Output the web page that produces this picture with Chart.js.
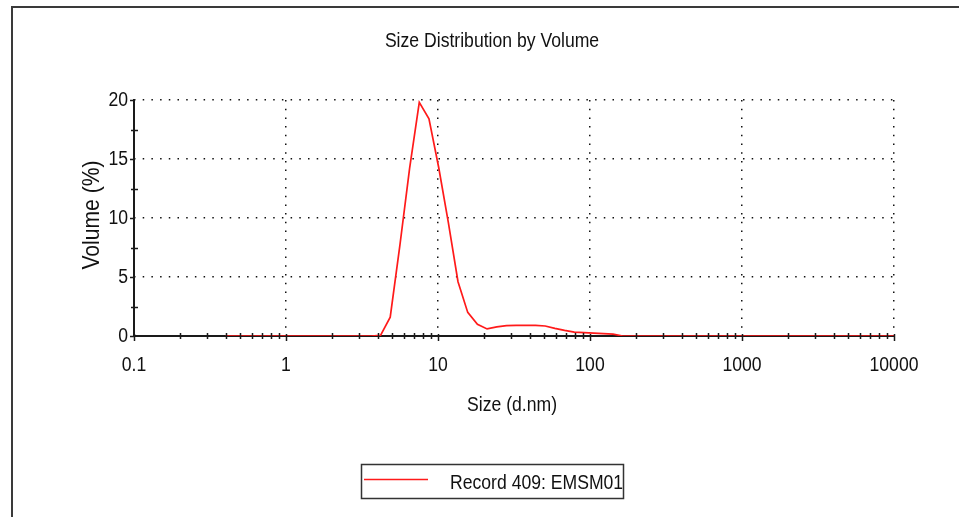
<!DOCTYPE html>
<html>
<head>
<meta charset="utf-8">
<script src="https://cdn.jsdelivr.net/npm/chart.js@4.4.0/dist/chart.umd.min.js"></script>
<style>
html, body { margin: 0; padding: 0; background: #fff; }
#wrap { position: relative; width: 959px; height: 517px; overflow: hidden; }
#frame { position: absolute; left: 11px; top: 6px; width: 2000px; height: 2000px;
         border-left: 2px solid #3a3a3a; border-top: 2px solid #3a3a3a; }
#chart { position: absolute; left: 0; top: 0; }
</style>
</head>
<body>
<div id="wrap">
  <div id="frame"></div>
  <canvas id="chart" width="959" height="517"></canvas>
</div>
<script>
// size bins (d.nm) and volume (%)
var sizeNm = [0.4, 3.616, 4.187, 4.849, 5.616, 6.504, 7.531, 8.722, 10.10, 11.70, 13.54, 15.69,
              18.17, 21.04, 24.37, 28.22, 32.67, 37.84, 43.82, 50.75, 58.77, 68.06, 78.82,
              91.28, 105.7, 122.4, 141.8, 164.2, 10000];
var volumePct = [0, 0, 0.05, 1.6, 7.7, 14.2, 19.8, 18.4, 14.3, 9.6, 4.6, 2.0,
                 1.0, 0.6, 0.78, 0.88, 0.9, 0.9, 0.9, 0.85, 0.65, 0.48, 0.33,
                 0.28, 0.24, 0.2, 0.16, 0, 0];

var xDecades = [0.1, 1, 10, 100, 1000, 10000];
var xTickLabels = ['0.1', '1', '10', '100', '1000', '10000'];
var yMajor = [0, 5, 10, 15, 20];
var yMinor = [2.5, 7.5, 12.5, 17.5];

var seriesLabel = 'Record 409: EMSM01';
var chartTitle = 'Size Distribution by Volume';
var xTitle = 'Size (d.nm)';
var yTitle = 'Volume (%)';

var FONT = "'Liberation Sans', Arial, sans-serif";
var NARROW = 0.88;

var xMinor = [];
for (var d = 0; d < xDecades.length - 1; d++) {
    for (var m = 2; m <= 9; m++) xMinor.push(+(xDecades[d] * m).toPrecision(3));
}

function isDecade(v) {
    return xDecades.some(function (d) { return Math.abs(v / d - 1) < 1e-6; });
}

var points = sizeNm.map(function (s, i) { return { x: s, y: volumePct[i] }; });

// narrow text like the original software's font
function narrowText(ctx, txt, x, y, align, rot) {
    ctx.save();
    ctx.translate(x, y);
    if (rot) ctx.rotate(rot);
    ctx.scale(NARROW, 1);
    ctx.textAlign = align;
    ctx.textBaseline = 'middle';
    ctx.fillText(txt, 0, 0);
    ctx.restore();
}

var decor = {
    id: 'decor',
    beforeDatasetsDraw: function (chart) {
        var ctx = chart.ctx, a = chart.chartArea;
        ctx.save();
        ctx.strokeStyle = '#1a1a1a';
        ctx.lineWidth = 2;
        ctx.beginPath();
        ctx.moveTo(a.left, a.top - 1);
        ctx.lineTo(a.left, a.bottom);
        ctx.lineTo(a.right, a.bottom);
        ctx.stroke();
        ctx.restore();
    },
    afterDraw: function (chart) {
        var ctx = chart.ctx, a = chart.chartArea;
        var xs = chart.scales.x, ys = chart.scales.y;
        ctx.save();
        // tick marks
        ctx.strokeStyle = '#1a1a1a';
        ctx.lineWidth = 1.5;
        ctx.beginPath();
        xMinor.forEach(function (v) {
            var px = Math.round(xs.getPixelForValue(v)) + 0.5;
            ctx.moveTo(px, a.bottom - 3); ctx.lineTo(px, a.bottom + 3);
        });
        xDecades.forEach(function (v) {
            var px = Math.round(xs.getPixelForValue(v)) + 0.5;
            ctx.moveTo(px, a.bottom - 2); ctx.lineTo(px, a.bottom + 5);
        });
        yMajor.forEach(function (v) {
            var py = Math.round(ys.getPixelForValue(v)) + 0.5;
            ctx.moveTo(a.left - 4, py); ctx.lineTo(a.left + 1, py);
        });
        yMinor.forEach(function (v) {
            var py = Math.round(ys.getPixelForValue(v)) + 0.5;
            ctx.moveTo(a.left - 3, py); ctx.lineTo(a.left + 4, py);
        });
        ctx.stroke();

        ctx.fillStyle = '#111';
        ctx.font = '20px ' + FONT;
        // tick labels
        xDecades.forEach(function (v, i) {
            narrowText(ctx, xTickLabels[i], xs.getPixelForValue(v), 365, 'center');
        });
        yMajor.forEach(function (v) {
            narrowText(ctx, String(v), a.left - 6, ys.getPixelForValue(v), 'right');
        });

        // titles
        narrowText(ctx, chartTitle, 492, 41, 'center');
        narrowText(ctx, xTitle, (a.left + a.right) / 2 - 2, 405, 'center');
        ctx.font = '24px ' + FONT;
        narrowText(ctx, yTitle, 92, 215, 'center', -Math.PI / 2);
        ctx.font = '20px ' + FONT;

        // legend box
        var ds = chart.data.datasets[0];
        ctx.strokeStyle = '#333';
        ctx.lineWidth = 1.5;
        ctx.strokeRect(361.5, 464.5, 262, 34);
        ctx.strokeStyle = ds.borderColor;
        ctx.lineWidth = 1.5;
        ctx.beginPath();
        ctx.moveTo(364, 479.5); ctx.lineTo(428, 479.5);
        ctx.stroke();
        narrowText(ctx, ds.label, 450, 483, 'left');
        ctx.restore();
    }
};

new Chart(document.getElementById('chart'), {
    type: 'line',
    data: {
        datasets: [{
            label: seriesLabel,
            data: points,
            borderColor: '#ff1a1a',
            borderWidth: 1.7,
            pointRadius: 0,
            tension: 0,
            fill: false
        }]
    },
    options: {
        responsive: false,
        animation: false,
        devicePixelRatio: 1,
        layout: { padding: { left: 0, top: 100, right: 65, bottom: 0 } },
        plugins: { legend: { display: false }, title: { display: false }, tooltip: { enabled: false } },
        scales: {
            x: {
                type: 'logarithmic',
                min: 0.1, max: 10000,
                afterBuildTicks: function (s) {
                    s.ticks = xDecades.concat(xMinor).sort(function (a, b) { return a - b; })
                        .map(function (v) { return { value: v }; });
                },
                afterFit: function (s) { s.height = 181; },
                border: { display: false, dash: [1.5, 7.2] },
                grid: {
                    drawTicks: false,
                    lineWidth: 1.5,
                    color: function (c) { return c.tick && isDecade(c.tick.value) ? '#111' : 'rgba(0,0,0,0)'; }
                },
                ticks: { display: false, autoSkip: false }
            },
            y: {
                min: 0, max: 20,
                afterBuildTicks: function (s) {
                    s.ticks = yMajor.concat(yMinor).sort(function (a, b) { return a - b; })
                        .map(function (v) { return { value: v }; });
                },
                afterFit: function (s) { s.width = 134; },
                border: { display: false, dash: [1.5, 7.2] },
                grid: {
                    drawTicks: false,
                    lineWidth: 1.5,
                    color: function (c) { return c.tick && c.tick.value % 5 === 0 && c.tick.value > 0 ? '#111' : 'rgba(0,0,0,0)'; }
                },
                ticks: { display: false }
            }
        }
    },
    plugins: [decor]
});
</script>
</body>
</html>
